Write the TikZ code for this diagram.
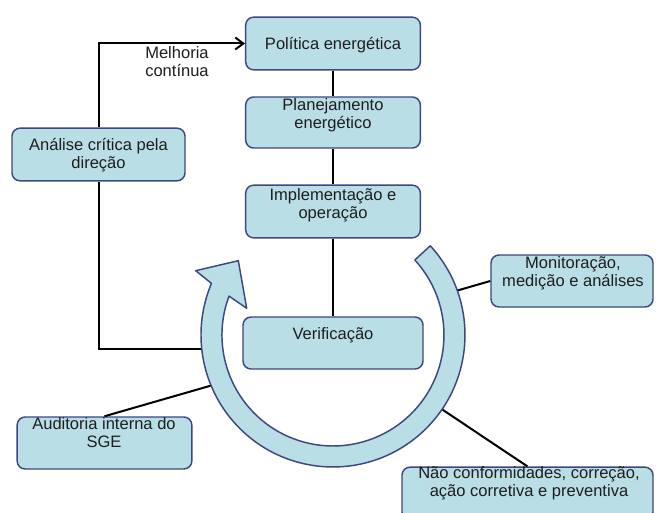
\documentclass[tikz,border=0pt]{standalone}
\usepackage{fontspec}
\setmainfont{Liberation Sans}
\usepackage{xcolor}
\usetikzlibrary{arrows.meta}

\definecolor{boxfill}{RGB}{185,222,230}
\definecolor{boxline}{RGB}{62,72,128}
\definecolor{txtcol}{RGB}{30,30,30}

\tikzset{
  box/.style={draw=boxline, fill=boxfill, line width=1.1pt, rounded corners=6pt,
    inner sep=0pt, minimum width=131pt, minimum height=39.5pt},
  txt/.style={anchor=north, inner sep=0pt, align=center, text=txtcol,
    font=\fontsize{12.4}{13.9}\selectfont},
  link/.style={line width=1.5pt, black},
  ring/.style={draw=boxline, fill=boxfill, line width=1.1pt, line join=round}
}

\begin{document}
\begin{tikzpicture}[x=0.75pt,y=0.75pt,yscale=-1,xscale=1]
\path[use as bounding box, fill=white] (0,0) rectangle (656,513);

%Shape: boxes
\node[box] (pol) at (333,43.5) {};
\node[box, minimum height=38.25pt] (plan) at (333,122.5) {};
\node[box] (impl) at (333,211.5) {};
\node[box, minimum width=135pt, minimum height=39pt] (ver) at (333,343) {};
\node[box, minimum width=129.75pt] (ana) at (98.5,154.5) {};
\node[box, minimum width=121.5pt, minimum height=39pt] (mon) at (572,281) {};
\node[box, minimum height=39pt] (aud) at (104.5,443) {};
\node[box, minimum width=188.25pt] (nc) at (527.5,493.5) {};

% Text Node
\node[txt] (pol-t) at (333,37) {Política energética};
\node[txt] (plan-t) at (333,98) {Planejamento\\energético};
\node[txt] (impl-t) at (333,188) {Implementação e\\operação};
\node[txt] (ver-t) at (333,327) {Verificação};
\node[txt] (ana-t) at (98.5,138) {Análise crítica pela\\direção};
\node[txt] (mon-t) at (573,256) {Monitoração,\\medição e análises};
\node[txt] (aud-t) at (104,417) {Auditoria interna do\\SGE};
\node[txt] (nc-t) at (529,466) {Não conformidades, correção,\\ação corretiva e preventiva};
\node[txt, anchor=north west, align=left] (mel-t) at (145,46) {Melhoria\\contínua};

%Straight Lines
\coordinate (fb) at (206,349);
\coordinate (m0) at (446.7,293.6);
\coordinate (a0) at (220,383);
\coordinate (n0) at (431,402);
\draw[link] (pol) -- (plan);
\draw[link] (plan) -- (impl);
\draw[link] (impl) -- (ver);
\draw[link] (fb) -| (ana.south);
\draw[link, -{Straight Barb[length=6pt, width=9pt]}] (ana.north) |- (pol.west);
\draw[link] (m0) -- (mon.west);
\draw[link] (a0) -- (aud.north);
\draw[link] (n0) -- (nc.north);

%Shape: circular arrow
\draw[ring] (430.3,245.8) arc[start angle=-42.5, end angle=203, radius=132]
  -- (195.7,270.7) -- (238.3,260.7) -- (246.7,308.3) -- (229,296.1)
  arc[start angle=200.5, end angle=-42.5, radius=111] -- cycle;

\end{tikzpicture}
\end{document}
